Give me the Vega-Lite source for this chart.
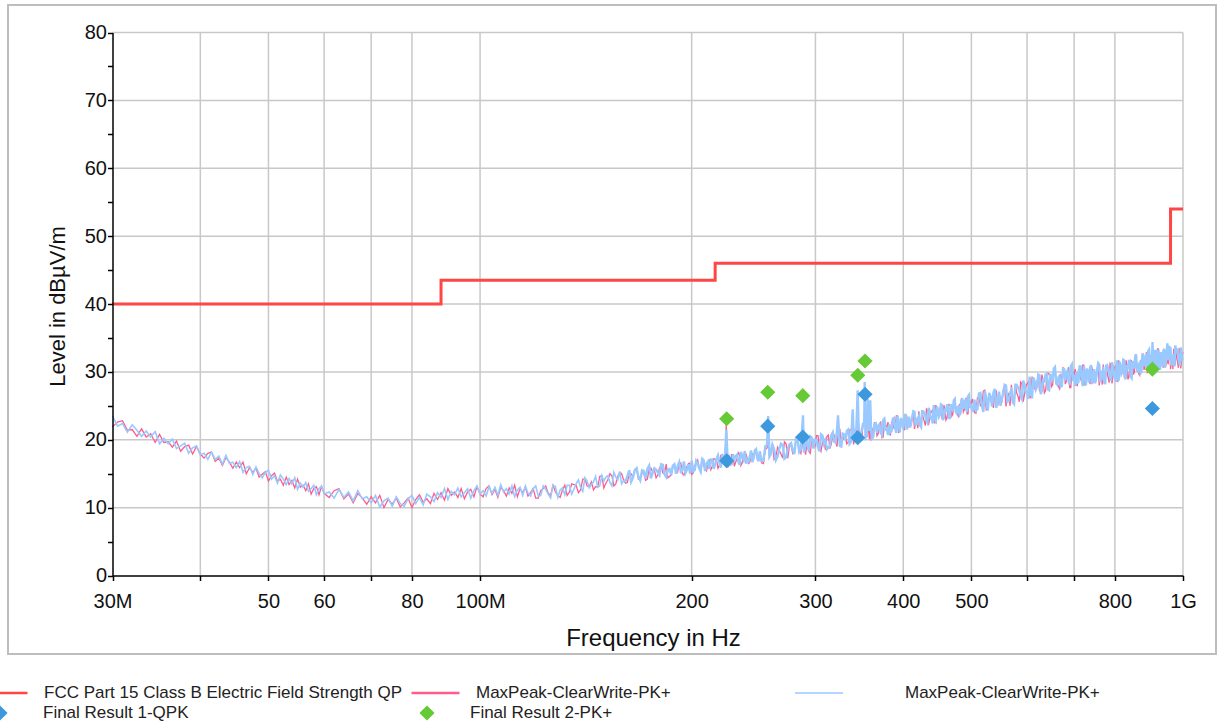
{
"$schema": "https://vega.github.io/schema/vega-lite/v6.json",
"width": 1208, "height": 649,
"autosize": {"type": "none"},
"padding": {"left": 8, "top": 5, "right": 1, "bottom": 73},
"background": "white",
"config": {"view": {"stroke": "#bdbdbd", "strokeWidth": 2}, "font": "Liberation Sans"},
"datasets": {
"gridx": [{"f":40},{"f":50},{"f":60},{"f":70},{"f":80},{"f":100},{"f":200},{"f":300},{"f":400},{"f":500},{"f":600},{"f":700},{"f":800},{"f":1000}],
"gridy": [{"v":10},{"v":20},{"v":30},{"v":40},{"v":50},{"v":60},{"v":70},{"v":80}],
"limit": [{"f":30,"l":40},{"f":88,"l":43.5},{"f":216,"l":46},{"f":960,"l":54},{"f":1000,"l":54}],
"finals": [
{"f":224.3,"v":16.9,"r":"Final Result 1-QPK"},{"f":256.6,"v":22.0,"r":"Final Result 1-QPK"},{"f":287.8,"v":20.4,"r":"Final Result 1-QPK"},{"f":344.6,"v":20.3,"r":"Final Result 1-QPK"},{"f":352.9,"v":26.7,"r":"Final Result 1-QPK"},{"f":904.6,"v":24.6,"r":"Final Result 1-QPK"},
{"f":224.3,"v":23.1,"r":"Final Result 2-PK+"},{"f":256.6,"v":27.0,"r":"Final Result 2-PK+"},{"f":287.8,"v":26.5,"r":"Final Result 2-PK+"},{"f":344.6,"v":29.5,"r":"Final Result 2-PK+"},{"f":352.9,"v":31.6,"r":"Final Result 2-PK+"},{"f":904.6,"v":30.4,"r":"Final Result 2-PK+"}],
"trace": [
{"f":30,"b":23.5,"p":21.9},{"f":30.5,"b":22.0,"p":22.6},{"f":31,"b":22.4,"p":22.8},{"f":31.5,"b":21.1,"p":21.4},{"f":32,"b":22.2,"p":21.5},{"f":32.5,"b":21.4,"p":20.5},{"f":33,"b":20.5,"p":21.6},{"f":33.5,"b":21.3,"p":20.4},{"f":34,"b":20.4,"p":20.9},{"f":34.5,"b":21.2,"p":19.6},
{"f":35,"b":19.4,"p":20.8},{"f":35.5,"b":20.2,"p":19.6},{"f":36,"b":19.4,"p":19.7},{"f":36.5,"b":20.1,"p":18.9},{"f":37,"b":18.7,"p":19.8},{"f":37.5,"b":19.1,"p":18.3},{"f":38,"b":19.5,"p":19.0},{"f":38.5,"b":18.0,"p":19.2},{"f":39,"b":18.8,"p":17.9},{"f":39.5,"b":19.1,"p":19.0},
{"f":40,"b":17.8,"p":17.9},{"f":40.5,"b":18.0,"p":17.3},{"f":41,"b":17.1,"p":18.0},{"f":41.5,"b":18.2,"p":18.2},{"f":42,"b":17.1,"p":16.8},{"f":42.5,"b":17.6,"p":17.3},{"f":43,"b":16.4,"p":16.2},{"f":43.5,"b":17.7,"p":17.4},{"f":44,"b":16.5,"p":16.7},{"f":44.5,"b":16.7,"p":15.8},
{"f":45,"b":15.9,"p":16.7},{"f":45.5,"b":16.8,"p":15.9},{"f":46,"b":15.2,"p":16.7},{"f":46.5,"b":15.9,"p":15.0},{"f":47,"b":16.1,"p":15.9},{"f":47.5,"b":14.9,"p":15.2},{"f":48,"b":16.0,"p":15.8},{"f":48.5,"b":15.0,"p":14.5},{"f":49,"b":14.4,"p":14.9},{"f":49.5,"b":15.2,"p":15.3},
{"f":50,"b":15.5,"p":13.9},{"f":50.5,"b":14.2,"p":14.7},{"f":51,"b":14.7,"p":15.1},{"f":51.5,"b":13.6,"p":13.9},{"f":52,"b":14.8,"p":14.2},{"f":52.5,"b":14.2,"p":13.3},{"f":53,"b":13.4,"p":14.5},{"f":53.5,"b":14.3,"p":13.4},{"f":54,"b":13.5,"p":14.0},{"f":54.5,"b":14.4,"p":12.9},
{"f":55,"b":12.7,"p":14.2},{"f":55.5,"b":13.6,"p":13.0},{"f":56,"b":13.0,"p":13.3},{"f":56.5,"b":13.7,"p":12.5},{"f":57,"b":12.4,"p":13.5},{"f":57.5,"b":12.8,"p":12.0},{"f":58,"b":13.3,"p":12.8},{"f":58.5,"b":11.9,"p":13.1},{"f":59,"b":12.8,"p":11.9},{"f":59.5,"b":13.2,"p":13.1},
{"f":60,"b":12.0,"p":12.1},{"f":61,"b":12.3,"p":11.5},{"f":62,"b":11.4,"p":12.5},{"f":63,"b":12.7,"p":12.8},{"f":64,"b":11.5,"p":11.3},{"f":65,"b":12.3,"p":12.0},{"f":66,"b":11.0,"p":10.7},{"f":67,"b":12.5,"p":12.1},{"f":68,"b":11.3,"p":11.4},{"f":69,"b":11.6,"p":10.5},
{"f":70,"b":10.7,"p":11.6},{"f":71,"b":11.8,"p":10.7},{"f":72,"b":10.1,"p":11.8},{"f":73,"b":11.0,"p":10.0},{"f":74,"b":11.4,"p":11.2},{"f":75,"b":10.2,"p":10.5},{"f":76,"b":11.6,"p":11.4},{"f":77,"b":10.6,"p":10.1},{"f":78,"b":10.2,"p":10.7},{"f":79,"b":11.3,"p":11.4},
{"f":80,"b":11.8,"p":10.0},{"f":81,"b":10.6,"p":11.2},{"f":82,"b":11.5,"p":11.9},{"f":83,"b":10.4,"p":10.8},{"f":84,"b":12.0,"p":11.3},{"f":85,"b":11.6,"p":10.6},{"f":86,"b":10.9,"p":12.1},{"f":87,"b":12.2,"p":11.2},{"f":88,"b":11.5,"p":12.2},{"f":89,"b":12.8,"p":11.1},
{"f":90,"b":11.2,"p":12.8},{"f":91,"b":12.4,"p":11.8},{"f":92,"b":11.9,"p":12.3},{"f":93,"b":12.9,"p":11.5},{"f":94,"b":11.6,"p":12.8},{"f":95,"b":12.2,"p":11.3},{"f":96,"b":12.8,"p":12.3},{"f":97,"b":11.4,"p":12.7},{"f":98,"b":12.5,"p":11.6},{"f":99,"b":13.2,"p":13.1},
{"f":100,"b":12.0,"p":12.0},{"f":101,"b":12.5,"p":11.6},{"f":102,"b":11.7,"p":12.8},{"f":103,"b":13.1,"p":13.2},{"f":104,"b":12.1,"p":11.9},{"f":105,"b":13.0,"p":12.7},{"f":106,"b":11.8,"p":11.5},{"f":107,"b":13.4,"p":13.0},{"f":108,"b":12.3,"p":12.5},{"f":109,"b":12.8,"p":11.7},
{"f":110,"b":12.0,"p":12.9},{"f":111,"b":13.2,"p":12.1},{"f":112,"b":11.6,"p":13.3},{"f":113,"b":12.6,"p":11.6},{"f":114,"b":13.0,"p":12.8},{"f":115,"b":11.8,"p":12.2},{"f":116,"b":13.2,"p":13.0},{"f":117,"b":12.1,"p":11.7},{"f":118,"b":11.7,"p":12.2},{"f":119,"b":12.8,"p":12.8},
{"f":120,"b":13.2,"p":11.4},{"f":122,"b":11.8,"p":12.5},{"f":124,"b":12.7,"p":13.2},{"f":126,"b":11.4,"p":11.8},{"f":128,"b":13.1,"p":12.3},{"f":130,"b":12.6,"p":11.5},{"f":132,"b":11.9,"p":13.3},{"f":134,"b":13.3,"p":12.3},{"f":136,"b":12.7,"p":13.4},{"f":138,"b":14.1,"p":12.2},
{"f":140,"b":12.4,"p":14.2},{"f":142,"b":13.9,"p":13.2},{"f":144,"b":13.4,"p":13.8},{"f":146,"b":14.6,"p":13.1},{"f":148,"b":13.2,"p":14.6},{"f":150,"b":13.9,"p":12.9},{"f":152,"b":14.7,"p":14.1},{"f":154,"b":13.2,"p":14.7},{"f":156,"b":14.5,"p":13.5},{"f":158,"b":15.3,"p":15.2},
{"f":160,"b":14.0,"p":14.1},{"f":162,"b":14.6,"p":13.7},{"f":164,"b":13.8,"p":15.0},{"f":166,"b":15.5,"p":15.6},{"f":168,"b":14.5,"p":14.2},{"f":170,"b":15.5,"p":15.2},{"f":172,"b":14.3,"p":14.0},{"f":174,"b":16.2,"p":15.8},{"f":176,"b":15.1,"p":15.3},{"f":178,"b":15.6,"p":14.4},
{"f":180,"b":14.8,"p":15.8},{"f":182,"b":16.3,"p":15.1},{"f":184,"b":14.5,"p":16.4},{"f":186,"b":15.7,"p":14.6},{"f":188,"b":16.2,"p":15.9},{"f":190,"b":15.0,"p":15.4},{"f":192,"b":16.7,"p":16.5},{"f":194,"b":15.5,"p":15.0},{"f":196,"b":15.1,"p":15.7},{"f":198,"b":16.4,"p":16.5},
{"f":200,"b":16.9,"p":14.9},{"f":202,"b":15.5,"p":16.2},{"f":204,"b":16.5,"p":17.0},{"f":206,"b":15.3,"p":15.7},{"f":208,"b":17.0,"p":16.2},{"f":210,"b":16.5,"p":15.4},{"f":212,"b":15.7,"p":17.1},{"f":214,"b":17.1,"p":16.1},{"f":216,"b":16.4,"p":17.1},{"f":218,"b":17.7,"p":15.8},
{"f":220,"b":15.9,"p":17.7},{"f":222,"b":17.3,"p":16.6},{"f":224,"b":21.5,"p":22.3},{"f":226,"b":17.8,"p":16.3},{"f":228,"b":16.4,"p":17.8},{"f":230,"b":17.1,"p":16.1},{"f":232,"b":17.8,"p":17.2},{"f":234,"b":16.3,"p":17.8},{"f":236,"b":17.6,"p":16.6},{"f":238,"b":18.3,"p":18.2},
{"f":240,"b":17.0,"p":17.1},{"f":242,"b":17.6,"p":16.7},{"f":244,"b":16.7,"p":17.9},{"f":246,"b":18.4,"p":18.5},{"f":248,"b":17.4,"p":17.1},{"f":250,"b":18.3,"p":18.0},
{"f":253,"b":16.9,"p":16.5},{"f":256,"b":19.3,"p":18.8},{"f":257,"b":23.5,"p":20.2},{"f":259,"b":17.8,"p":18.1},{"f":262,"b":18.6,"p":17.1},{"f":265,"b":17.5,"p":18.9},{"f":268,"b":19.4,"p":17.9},{"f":271,"b":17.2,"p":19.7},{"f":274,"b":18.7,"p":17.3},{"f":277,"b":19.5,"p":19.1},
{"f":280,"b":17.9,"p":18.4},{"f":283,"b":20.1,"p":19.8},{"f":286,"b":18.6,"p":18.0},{"f":288,"b":23.6,"p":19.8},{"f":289,"b":18.1,"p":18.9},{"f":292,"b":19.7,"p":19.9},{"f":295,"b":20.5,"p":18.0},{"f":298,"b":18.7,"p":19.6},{"f":301,"b":19.9,"p":20.6},{"f":304,"b":18.3,"p":18.9},
{"f":307,"b":20.6,"p":19.6},{"f":310,"b":19.9,"p":18.5},{"f":313,"b":18.9,"p":20.7},{"f":316,"b":20.7,"p":19.4},{"f":319,"b":19.7,"p":20.7},{"f":322,"b":21.5,"p":19.0},{"f":323,"b":23.6,"p":20.6},{"f":325,"b":19.1,"p":21.5},{"f":328,"b":20.9,"p":20.0},{"f":331,"b":20.2,"p":20.7},
{"f":334,"b":21.5,"p":19.6},{"f":337,"b":19.7,"p":21.5},{"f":339,"b":24.5,"p":21.0},{"f":340,"b":20.6,"p":19.3},{"f":343,"b":21.6,"p":20.8},{"f":344.5,"b":27.3,"p":23.2},{"f":346,"b":19.6,"p":21.6},{"f":349,"b":21.3,"p":20.0},{"f":352,"b":22.2,"p":22.1},{"f":352.5,"b":28.5,"p":25.0},
{"f":355,"b":20.5,"p":20.7},{"f":356,"b":26.0,"p":22.6},{"f":358,"b":21.3,"p":20.1},{"f":359,"b":25.8,"p":21.8},{"f":361,"b":20.2,"p":21.8},{"f":364,"b":22.3,"p":22.5},{"f":367,"b":21.0,"p":20.6},{"f":370,"b":22.3,"p":21.9},{"f":373,"b":20.7,"p":20.3},{"f":376,"b":23.1,"p":22.6},
{"f":379,"b":21.6,"p":21.9},{"f":382,"b":22.3,"p":20.8},{"f":385,"b":21.3,"p":22.6},{"f":388,"b":23.2,"p":21.7},{"f":391,"b":21.0,"p":23.5},{"f":394,"b":22.4,"p":21.0},{"f":397,"b":23.2,"p":22.8},{"f":400,"b":21.6,"p":22.1},{"f":403,"b":23.8,"p":23.5},{"f":406,"b":22.3,"p":21.7},
{"f":409,"b":21.8,"p":22.6},{"f":412,"b":23.4,"p":23.5},{"f":415,"b":24.1,"p":21.6},{"f":418,"b":22.3,"p":23.2},{"f":421,"b":23.5,"p":24.2},{"f":424,"b":21.9,"p":22.5},{"f":427,"b":24.2,"p":23.2},{"f":430,"b":23.5,"p":22.1},{"f":433,"b":22.5,"p":24.3},{"f":436,"b":24.3,"p":23.0},
{"f":439,"b":23.3,"p":24.2},{"f":442,"b":25.1,"p":22.6},{"f":445,"b":22.7,"p":25.1},{"f":448,"b":24.5,"p":23.6},{"f":451,"b":23.7,"p":24.3},{"f":454,"b":25.1,"p":23.2},{"f":457,"b":23.3,"p":25.1},{"f":460,"b":24.1,"p":22.9},{"f":463,"b":25.1,"p":24.4},{"f":466,"b":23.2,"p":25.1},
{"f":469,"b":24.8,"p":23.5},{"f":472,"b":25.8,"p":25.7},{"f":475,"b":24.1,"p":24.2},{"f":478,"b":24.8,"p":23.6},{"f":481,"b":23.7,"p":25.3},{"f":484,"b":25.8,"p":26.0},{"f":487,"b":24.5,"p":24.1},{"f":490,"b":25.8,"p":25.4},{"f":493,"b":24.1,"p":23.8},{"f":496,"b":26.6,"p":26.1},
{"f":499,"b":25.0,"p":25.3},{"f":505,"b":25.9,"p":24.0},{"f":510,"b":24.5,"p":26.2},{"f":515,"b":26.9,"p":25.0},{"f":520,"b":24.1,"p":27.2},{"f":525,"b":26.0,"p":24.3},{"f":530,"b":26.9,"p":26.4},{"f":535,"b":24.9,"p":25.6},{"f":540,"b":27.5,"p":27.3},{"f":545,"b":25.7,"p":25.0},
{"f":550,"b":25.0,"p":26.0},{"f":555,"b":27.0,"p":27.3},{"f":560,"b":28.0,"p":24.9},{"f":565,"b":25.7,"p":26.9},{"f":570,"b":27.3,"p":28.1},{"f":575,"b":25.3,"p":26.0},{"f":580,"b":28.1,"p":26.9},{"f":585,"b":27.3,"p":25.6},{"f":590,"b":26.0,"p":28.3},{"f":595,"b":28.2,"p":26.7},
{"f":600,"b":27.0,"p":28.2},{"f":605,"b":29.3,"p":26.3},{"f":610,"b":26.4,"p":29.3},{"f":615,"b":28.6,"p":27.5},{"f":620,"b":27.8,"p":28.5},{"f":625,"b":29.5,"p":27.2},{"f":630,"b":27.3,"p":29.6},{"f":635,"b":28.4,"p":26.9},{"f":640,"b":29.7,"p":28.8},{"f":645,"b":27.3,"p":29.7},
{"f":650,"b":29.3,"p":27.8},{"f":655,"b":30.5,"p":30.4},{"f":660,"b":28.3,"p":28.5},{"f":665,"b":29.2,"p":27.8},{"f":670,"b":27.8,"p":29.7},{"f":675,"b":30.4,"p":30.6},{"f":680,"b":28.7,"p":28.2},{"f":685,"b":30.2,"p":29.7},{"f":690,"b":28.1,"p":27.7},{"f":695,"b":31.1,"p":30.5},
{"f":700,"b":29.2,"p":29.6},{"f":705,"b":30.0,"p":28.1},{"f":710,"b":28.5,"p":30.2},{"f":715,"b":30.8,"p":28.9},{"f":720,"b":27.9,"p":31.0},{"f":725,"b":29.7,"p":28.0},{"f":730,"b":30.5,"p":30.1},{"f":735,"b":28.4,"p":29.1},{"f":740,"b":31.0,"p":30.8},{"f":745,"b":29.1,"p":28.4},
{"f":750,"b":28.3,"p":29.3},{"f":755,"b":30.3,"p":30.5},{"f":760,"b":31.1,"p":28.0},{"f":765,"b":28.8,"p":30.0},{"f":770,"b":30.3,"p":31.1},{"f":775,"b":28.2,"p":28.9},{"f":780,"b":31.0,"p":29.8},{"f":785,"b":30.1,"p":28.4},{"f":790,"b":28.7,"p":31.0},{"f":795,"b":30.8,"p":29.3},
{"f":800,"b":29.5,"p":30.7},{"f":805,"b":31.7,"p":28.7},{"f":810,"b":28.7,"p":31.7},{"f":815,"b":30.9,"p":29.8},{"f":820,"b":30.0,"p":30.7},{"f":825,"b":31.7,"p":29.3},{"f":830,"b":29.4,"p":31.7},{"f":835,"b":30.4,"p":28.9},{"f":840,"b":31.6,"p":30.7},{"f":845,"b":29.1,"p":31.6},
{"f":850,"b":31.1,"p":29.6},{"f":855,"b":32.3,"p":32.2},{"f":860,"b":30.2,"p":30.4},{"f":865,"b":31.1,"p":29.7},{"f":870,"b":29.8,"p":31.7},{"f":875,"b":32.4,"p":32.6},{"f":880,"b":30.8,"p":30.3},{"f":885,"b":32.3,"p":31.9},{"f":890,"b":30.3,"p":29.9},{"f":895,"b":33.3,"p":32.7},
{"f":900,"b":31.5,"p":31.9},{"f":905,"b":34.4,"p":32.0},{"f":910,"b":30.9,"p":32.6},{"f":915,"b":33.1,"p":31.3},{"f":920,"b":30.3,"p":33.4},{"f":925,"b":32.1,"p":30.4},{"f":930,"b":32.9,"p":32.5},{"f":935,"b":30.8,"p":31.5},{"f":940,"b":33.4,"p":33.2},{"f":945,"b":31.5,"p":30.8},
{"f":950,"b":34.2,"p":31.7},{"f":955,"b":32.7,"p":32.9},{"f":960,"b":33.5,"p":30.4},{"f":965,"b":31.1,"p":32.3},{"f":970,"b":32.6,"p":33.4},{"f":975,"b":33.9,"p":31.2},{"f":980,"b":33.3,"p":32.1},{"f":985,"b":32.3,"p":30.6},{"f":990,"b":30.9,"p":33.2},{"f":995,"b":33.0,"p":31.5},
{"f":1000,"b":31.7,"p":32.9},
{"f":121,"b":11.7,"p":11.4},{"f":123,"b":13.2,"p":12.8},{"f":125,"b":12.0,"p":12.1},{"f":127,"b":13.3,"p":13.3},{"f":129,"b":11.5,"p":11.8},{"f":131,"b":12.9,"p":12.6},{"f":133,"b":13.3,"p":11.8},{"f":135,"b":12.0,"p":13.5},{"f":137,"b":13.5,"p":13.3},{"f":139,"b":13.0,"p":12.6},
{"f":141,"b":14.4,"p":14.2},{"f":143,"b":12.9,"p":13.1},{"f":145,"b":13.8,"p":12.6},{"f":147,"b":13.0,"p":13.0},{"f":149,"b":14.7,"p":14.7},{"f":151,"b":14.5,"p":13.6},{"f":153,"b":13.7,"p":15.0},{"f":155,"b":15.2,"p":13.2},{"f":157,"b":14.1,"p":14.6},{"f":159,"b":13.5,"p":15.0},
{"f":161,"b":13.9,"p":13.6},{"f":163,"b":15.5,"p":15.1},{"f":165,"b":14.4,"p":14.5},{"f":167,"b":15.8,"p":15.8},{"f":169,"b":14.0,"p":14.3},{"f":171,"b":15.4,"p":15.1},{"f":173,"b":15.7,"p":14.2},{"f":175,"b":14.3,"p":15.8},{"f":177,"b":15.8,"p":15.6},{"f":179,"b":15.2,"p":14.8},
{"f":181,"b":16.4,"p":16.2},{"f":183,"b":14.9,"p":15.1},{"f":185,"b":15.6,"p":14.4},{"f":187,"b":14.8,"p":14.8},{"f":189,"b":16.4,"p":16.4},{"f":191,"b":16.1,"p":15.2},{"f":193,"b":15.3,"p":16.6},{"f":195,"b":16.8,"p":14.8},{"f":197,"b":15.6,"p":16.1},{"f":199,"b":15.0,"p":16.5},
{"f":201,"b":15.4,"p":15.1},{"f":203,"b":16.9,"p":16.5},{"f":205,"b":15.8,"p":15.9},{"f":207,"b":17.2,"p":17.2},{"f":209,"b":15.4,"p":15.7},{"f":211,"b":16.8,"p":16.5},{"f":213,"b":17.1,"p":15.6},{"f":215,"b":15.7,"p":17.2},{"f":217,"b":17.2,"p":17.0},{"f":219,"b":16.6,"p":16.2},
{"f":221,"b":17.9,"p":17.7},{"f":223,"b":16.3,"p":16.5},{"f":225,"b":17.1,"p":15.9},{"f":227,"b":16.3,"p":16.3},{"f":229,"b":17.8,"p":17.8},{"f":231,"b":17.6,"p":16.7},{"f":233,"b":16.8,"p":18.1},{"f":235,"b":18.2,"p":16.2},{"f":237,"b":17.1,"p":17.6},{"f":239,"b":16.5,"p":17.9},
{"f":241,"b":16.8,"p":16.5},{"f":243,"b":18.4,"p":18.0},{"f":245,"b":17.3,"p":17.4},{"f":247,"b":18.6,"p":18.6},{"f":249,"b":16.8,"p":17.1},
{"f":251.5,"b":16.9,"p":16.6},{"f":254.5,"b":19.0,"p":18.5},{"f":258,"b":17.5,"p":17.7},{"f":260.5,"b":19.3,"p":19.4},{"f":263.5,"b":17.0,"p":17.4},{"f":266.5,"b":18.7,"p":18.4},{"f":269.5,"b":19.2,"p":17.3},{"f":272.5,"b":17.4,"p":19.4},{"f":275.5,"b":19.3,"p":19.1},{"f":278.5,"b":18.5,"p":18.0},
{"f":281.5,"b":20.2,"p":19.9},{"f":284.5,"b":18.2,"p":18.5},{"f":290.5,"b":19.3,"p":17.8},{"f":293.5,"b":18.3,"p":18.3},{"f":296.5,"b":20.3,"p":20.3},{"f":299.5,"b":20.0,"p":18.9},{"f":302.5,"b":18.9,"p":20.6},{"f":305.5,"b":20.8,"p":18.3},{"f":308.5,"b":19.4,"p":20.0},{"f":311.5,"b":18.6,"p":20.5},
{"f":314.5,"b":19.0,"p":18.7},{"f":317.5,"b":21.1,"p":20.6},{"f":320.5,"b":19.6,"p":19.7},{"f":324,"b":21.4,"p":21.4},{"f":326.5,"b":19.0,"p":19.4},{"f":329.5,"b":20.8,"p":20.4},{"f":332.5,"b":21.3,"p":19.4},{"f":335.5,"b":19.4,"p":21.4},{"f":341.5,"b":21.4,"p":21.2},{"f":347.5,"b":20.7,"p":20.2},
{"f":350.5,"b":22.3,"p":22.1},{"f":353.5,"b":20.3,"p":20.6},{"f":360,"b":21.4,"p":19.9},{"f":362.5,"b":20.4,"p":20.4},{"f":365.5,"b":22.4,"p":22.4},{"f":368.5,"b":22.1,"p":20.9},{"f":371.5,"b":21.0,"p":22.7},{"f":374.5,"b":22.9,"p":20.4},{"f":377.5,"b":21.5,"p":22.1},{"f":380.5,"b":20.7,"p":22.6},
{"f":383.5,"b":21.1,"p":20.7},{"f":386.5,"b":23.1,"p":22.7},{"f":389.5,"b":21.7,"p":21.8},{"f":392.5,"b":23.5,"p":23.5},{"f":395.5,"b":21.1,"p":21.5},{"f":398.5,"b":22.8,"p":22.5},{"f":401.5,"b":23.3,"p":21.4},{"f":404.5,"b":21.5,"p":23.5},{"f":407.5,"b":23.4,"p":23.2},{"f":410.5,"b":22.5,"p":22.1},
{"f":413.5,"b":24.2,"p":24.0},{"f":416.5,"b":22.2,"p":22.5},{"f":419.5,"b":23.2,"p":21.7},{"f":422.5,"b":22.2,"p":22.2},{"f":425.5,"b":24.2,"p":24.2},{"f":428.5,"b":23.9,"p":22.7},{"f":431.5,"b":22.8,"p":24.5},{"f":434.5,"b":24.7,"p":22.2},{"f":437.5,"b":23.2,"p":23.9},{"f":440.5,"b":22.4,"p":24.4},
{"f":443.5,"b":22.9,"p":22.5},{"f":446.5,"b":24.9,"p":24.5},{"f":449.5,"b":23.4,"p":23.6},{"f":452.5,"b":25.2,"p":25.3},{"f":455.5,"b":22.9,"p":23.3},{"f":458.5,"b":24.6,"p":24.2},{"f":461.5,"b":25.1,"p":23.2},{"f":464.5,"b":23.2,"p":25.2},{"f":467.5,"b":25.2,"p":24.9},{"f":470.5,"b":24.3,"p":23.8},
{"f":473.5,"b":26.0,"p":25.7},{"f":476.5,"b":23.9,"p":24.2},{"f":479.5,"b":24.9,"p":23.4},{"f":482.5,"b":23.9,"p":23.9},{"f":485.5,"b":25.9,"p":25.9},{"f":488.5,"b":25.6,"p":24.4},{"f":491.5,"b":24.5,"p":26.2},{"f":494.5,"b":26.4,"p":23.8},{"f":497.5,"b":24.9,"p":25.6},{"f":502,"b":24.1,"p":26.0},
{"f":507.5,"b":24.3,"p":23.9},{"f":512.5,"b":26.8,"p":26.3},{"f":517.5,"b":25.0,"p":25.2},{"f":522.5,"b":27.2,"p":27.3},{"f":527.5,"b":24.3,"p":24.8},{"f":532.5,"b":26.4,"p":26.0},{"f":537.5,"b":27.0,"p":24.7},{"f":542.5,"b":24.7,"p":27.2},{"f":547.5,"b":27.1,"p":26.8},{"f":552.5,"b":26.0,"p":25.5},
{"f":557.5,"b":28.1,"p":27.8},{"f":562.5,"b":25.6,"p":26.0},{"f":567.5,"b":26.9,"p":25.0},{"f":572.5,"b":25.6,"p":25.6},{"f":577.5,"b":28.1,"p":28.1},{"f":582.5,"b":27.7,"p":26.4},{"f":587.5,"b":26.4,"p":28.5},{"f":592.5,"b":28.7,"p":25.6},{"f":597.5,"b":27.0,"p":27.8},{"f":602.5,"b":26.0,"p":28.5},
{"f":607.5,"b":26.6,"p":26.2},{"f":612.5,"b":29.2,"p":28.6},{"f":617.5,"b":27.4,"p":27.6},{"f":622.5,"b":29.6,"p":29.7},{"f":627.5,"b":26.7,"p":27.2},{"f":632.5,"b":29.0,"p":28.6},{"f":637.5,"b":29.6,"p":27.2},{"f":642.5,"b":27.4,"p":29.8},{"f":647.5,"b":29.7,"p":29.4},{"f":652.5,"b":28.7,"p":28.1},
{"f":657.5,"b":30.7,"p":30.4},{"f":662.5,"b":28.1,"p":28.5},{"f":667.5,"b":29.4,"p":27.5},{"f":672.5,"b":27.9,"p":28.0},{"f":677.5,"b":30.4,"p":30.5},{"f":682.5,"b":29.9,"p":28.6},{"f":687.5,"b":28.6,"p":30.7},{"f":692.5,"b":30.8,"p":27.7},{"f":697.5,"b":29.0,"p":29.9},{"f":702.5,"b":27.9,"p":30.4},
{"f":707.5,"b":28.4,"p":28.0},{"f":712.5,"b":30.8,"p":30.2},{"f":717.5,"b":28.9,"p":29.1},{"f":722.5,"b":30.9,"p":31.0},{"f":727.5,"b":28.0,"p":28.5},{"f":732.5,"b":30.0,"p":29.6},{"f":737.5,"b":30.6,"p":28.2},{"f":742.5,"b":28.2,"p":30.6},{"f":747.5,"b":30.4,"p":30.1},{"f":752.5,"b":29.3,"p":28.7},
{"f":757.5,"b":31.3,"p":31.0},{"f":762.5,"b":28.7,"p":29.1},{"f":767.5,"b":30.0,"p":28.1},{"f":772.5,"b":28.5,"p":28.6},{"f":777.5,"b":30.9,"p":31.0},{"f":782.5,"b":30.5,"p":29.2},{"f":787.5,"b":29.1,"p":31.2},{"f":792.5,"b":31.4,"p":28.3},{"f":797.5,"b":29.5,"p":30.4},{"f":802.5,"b":28.5,"p":30.9},
{"f":807.5,"b":29.0,"p":28.6},{"f":812.5,"b":31.5,"p":30.9},{"f":817.5,"b":29.7,"p":29.9},{"f":822.5,"b":31.8,"p":31.9},{"f":827.5,"b":28.9,"p":29.4},{"f":832.5,"b":31.0,"p":30.6},{"f":837.5,"b":31.6,"p":29.2},{"f":842.5,"b":29.3,"p":31.7},{"f":847.5,"b":31.6,"p":31.3},{"f":852.5,"b":30.5,"p":29.9},
{"f":857.5,"b":32.6,"p":32.3},{"f":862.5,"b":30.1,"p":30.5},{"f":867.5,"b":31.3,"p":29.5},{"f":872.5,"b":30.0,"p":30.0},{"f":877.5,"b":32.5,"p":32.5},{"f":882.5,"b":32.1,"p":30.7},{"f":887.5,"b":30.8,"p":32.9},{"f":892.5,"b":33.1,"p":30.0},{"f":897.5,"b":31.3,"p":32.1},{"f":902.5,"b":30.2,"p":32.7},
{"f":907.5,"b":30.7,"p":30.3},{"f":912.5,"b":33.1,"p":32.6},{"f":917.5,"b":31.3,"p":31.5},{"f":922.5,"b":33.3,"p":33.4},{"f":927.5,"b":30.3,"p":30.8},{"f":932.5,"b":32.4,"p":32.0},{"f":937.5,"b":33.0,"p":30.6},{"f":942.5,"b":30.6,"p":33.0},{"f":947.5,"b":32.8,"p":32.5},{"f":952.5,"b":31.7,"p":31.1},
{"f":957.5,"b":33.6,"p":33.4},{"f":962.5,"b":31.1,"p":31.5},{"f":967.5,"b":32.3,"p":30.4},{"f":972.5,"b":30.8,"p":30.9},{"f":977.5,"b":33.3,"p":33.3},{"f":982.5,"b":32.8,"p":31.4},{"f":987.5,"b":31.4,"p":33.5},{"f":992.5,"b":33.6,"p":30.5},{"f":997.5,"b":31.7,"p":32.6}
]
},
"layer": [
{"data": {"name": "gridx"},
 "mark": {"type": "rule", "color": "#c8c8c8", "strokeWidth": 1.5},
 "encoding": {
  "x": {"field": "f", "type": "quantitative"},
  "y": {"datum": 0, "type": "quantitative"},
  "y2": {"datum": 80}
 }},
{"data": {"name": "gridy"},
 "mark": {"type": "rule", "color": "#c8c8c8", "strokeWidth": 1.5},
 "encoding": {
  "y": {"field": "v", "type": "quantitative"},
  "x": {"datum": 30, "type": "quantitative"},
  "x2": {"datum": 1000}
 }},
{"data": {"name": "limit"},
 "mark": {"type": "line", "interpolate": "step-after", "strokeWidth": 3},
 "encoding": {
  "x": {"field": "f", "type": "quantitative"},
  "y": {"field": "l", "type": "quantitative"},
  "color": {"datum": "FCC Part 15 Class B Electric Field Strength QP", "type": "nominal",
   "scale": {"domain": ["FCC Part 15 Class B Electric Field Strength QP", "MaxPeak-ClearWrite-PK+"], "range": ["#ff4646", "#ff5c8d"]},
   "legend": {"orient": "none", "legendX": -30, "legendY": 680, "title": null, "columns": 2, "columnPadding": 7, "clipHeight": 16, "padding": 0,
    "symbolType": "stroke", "symbolSize": 2304, "symbolStrokeWidth": 2.5,
    "labelOffset": 15, "labelFont": "Liberation Sans", "labelFontSize": 17, "labelColor": "#222", "labelLimit": 600}}
 }},
{"data": {"name": "trace"},
 "mark": {"type": "line", "strokeWidth": 1.3},
 "encoding": {
  "x": {"field": "f", "type": "quantitative",
   "scale": {"type": "log", "domain": [30, 1000], "range": [104.5, 1175], "nice": false},
   "axis": {"title": "Frequency in Hz", "orient": "bottom", "offset": -78.5, "grid": false, "zindex": 1,
    "values": [30,40,50,60,70,80,100,200,300,400,500,600,700,800,1000],
    "labelExpr": "datum.value == 30 ? '30M' : datum.value == 100 ? '100M' : datum.value == 1000 ? '1G' : (datum.value == 40 || datum.value == 70 || datum.value == 600 || datum.value == 700) ? '' : '' + datum.value",
    "labelFont": "Liberation Sans", "labelFontSize": 20, "labelColor": "#111", "labelPadding": 11,
    "labelFlush": false, "labelOverlap": false, "labelBound": false,
    "tickSize": 5, "tickWidth": 1.5, "tickColor": "#000", "domainColor": "#000", "domainWidth": 1.5,
    "titleFont": "Liberation Sans", "titleFontSize": 24, "titleFontWeight": "normal", "titleColor": "#111",
    "titleX": 645, "titleY": 69.5, "titleAlign": "center", "titleBaseline": "alphabetic",
    "encode": {"ticks": {"y": {"value": -5}}}}},
  "y": {"field": "p", "type": "quantitative",
   "scale": {"domain": [0, 80], "range": [570.5, 27.5], "nice": false, "zero": false},
   "axis": {"title": "Level in dBµV/m", "orient": "left", "offset": -104.5, "grid": false, "zindex": 1,
    "values": [0,5,10,15,20,25,30,35,40,45,50,55,60,65,70,75,80],
    "labelExpr": "datum.value % 10 == 0 ? '' + datum.value : ''",
    "labelFont": "Liberation Sans", "labelFontSize": 20, "labelColor": "#111", "labelPadding": 1,
    "labelFlush": false, "labelOverlap": false, "labelBound": false,
    "tickSize": 5, "tickWidth": 1.5, "tickColor": "#000", "domainColor": "#000", "domainWidth": 1.5,
    "titleFont": "Liberation Sans", "titleFontSize": 22, "titleFontWeight": "normal", "titleColor": "#111",
    "titleAngle": 270, "titleX": -48.5, "titleY": 301, "titleAlign": "center", "titleBaseline": "alphabetic",
    "encode": {"ticks": {"x": {"value": 5}}}}},
  "color": {"datum": "MaxPeak-ClearWrite-PK+", "type": "nominal"}
 }},
{"data": {"name": "trace"},
 "transform": [{"filter": "datum.f <= 160"}],
 "mark": {"type": "line", "strokeWidth": 1.6},
 "encoding": {
  "x": {"field": "f", "type": "quantitative"},
  "y": {"field": "b", "type": "quantitative"},
  "stroke": {"datum": "MaxPeak-ClearWrite-PK+", "type": "nominal",
   "scale": {"domain": ["MaxPeak-ClearWrite-PK+"], "range": ["#99c9ff"]},
   "legend": {"orient": "none", "legendX": 786, "legendY": 680, "title": null, "clipHeight": 16, "padding": 0,
    "symbolType": "stroke", "symbolSize": 2304, "symbolStrokeWidth": 1.5,
    "labelOffset": 61, "labelFont": "Liberation Sans", "labelFontSize": 17, "labelColor": "#222", "labelLimit": 600}}
 }},
{"data": {"name": "trace"},
 "transform": [{"filter": "datum.f >= 160"}],
 "mark": {"type": "line", "strokeWidth": 2.4},
 "encoding": {
  "x": {"field": "f", "type": "quantitative"},
  "y": {"field": "b", "type": "quantitative"},
  "stroke": {"datum": "MaxPeak-ClearWrite-PK+", "type": "nominal"}
 }},
{"data": {"name": "finals"},
 "mark": {"type": "point", "shape": "diamond", "filled": true, "size": 230, "opacity": 1},
 "encoding": {
  "x": {"field": "f", "type": "quantitative"},
  "y": {"field": "v", "type": "quantitative"},
  "fill": {"field": "r", "type": "nominal",
   "scale": {"domain": ["Final Result 1-QPK", "Final Result 2-PK+"], "range": ["#3d98dd", "#66c936"]},
   "legend": {"orient": "none", "legendX": -16.5, "legendY": 700, "title": null, "columns": 2, "columnPadding": 230, "clipHeight": 16, "padding": 0,
    "symbolType": "diamond", "symbolSize": 230, "symbolStrokeWidth": 0, "symbolOpacity": 1,
    "labelOffset": 34.5, "labelFont": "Liberation Sans", "labelFontSize": 17, "labelColor": "#222", "labelLimit": 600}}
 }}
]
}
